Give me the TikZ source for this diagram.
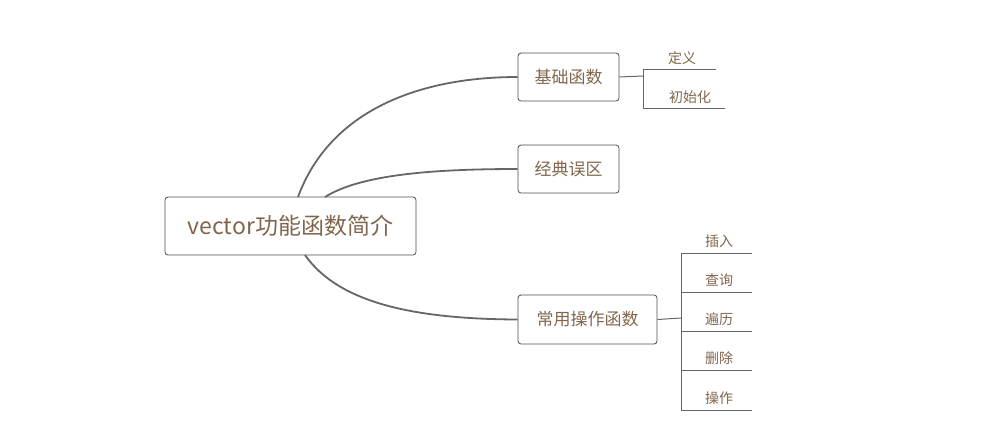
\documentclass[tikz,border=0pt]{standalone}
\usepackage{fontspec}
\setmainfont{Noto Sans CJK SC}
\begin{document}
\begin{tikzpicture}[x=1pt,y=-1pt,
  txt/.style={text=brown!50!black!80},
  box/.style={draw=black!70,rounded corners=3pt,line width=0.8pt,minimum height=48pt,inner sep=0pt,txt,font=\fontsize{17}{20}\selectfont},
  leaf/.style={txt,font=\fontsize{14}{16}\selectfont,inner sep=0pt},
  conn/.style={draw=black!60,line width=1.8pt},
  br/.style={draw=black!60,line width=1pt}]
\useasboundingbox (0,0) rectangle (981,440);
\node[box,minimum width=251pt,minimum height=58pt,font=\fontsize{23}{26}\selectfont] (root) at (290.5,226) {vector功能函数简介};
\node[box,minimum width=101pt] (b1) at (568.5,77) {基础函数};
\node[box,minimum width=101pt] (b2) at (568.5,169) {经典误区};
\node[box,minimum width=139pt,minimum height=49pt] (b3) at (587.5,319.5) {常用操作函数};
\coordinate (r1) at (298,197);
\coordinate (r2) at (325,197);
\coordinate (r3) at (305,255);
\draw[conn] (r1) .. controls (330,110) and (420,77) .. (b1.west);
\draw[conn] (r2) .. controls (360,175) and (430,169) .. (b2.west);
\draw[conn] (r3) .. controls (340,305) and (420,319) .. (b3.west);
% group 1
\coordinate (j1) at (643,76);
\draw[br] (b1.east) -- (j1);
\draw[br] (643,69) -- (643,108);
\draw[br] (643,69) -- (716,69);
\draw[br] (643,108) -- (725,108);
\node[leaf] (l1) at (682,58) {定义};
\node[leaf] (l2) at (690,97) {初始化};
% group 3
\coordinate (j3) at (681,318);
\draw[br] (b3.east) -- (j3);
\draw[br] (681,253) -- (681,410);
\foreach \y/\t/\n in {253/插入/a,292/查询/b,331/遍历/c,370/删除/d,410/操作/e}{
  \draw[br] (681,\y) -- (752,\y);
  \node[leaf] (m\n) at (719,\y-12) {\t};
}
\end{tikzpicture}
\end{document}
